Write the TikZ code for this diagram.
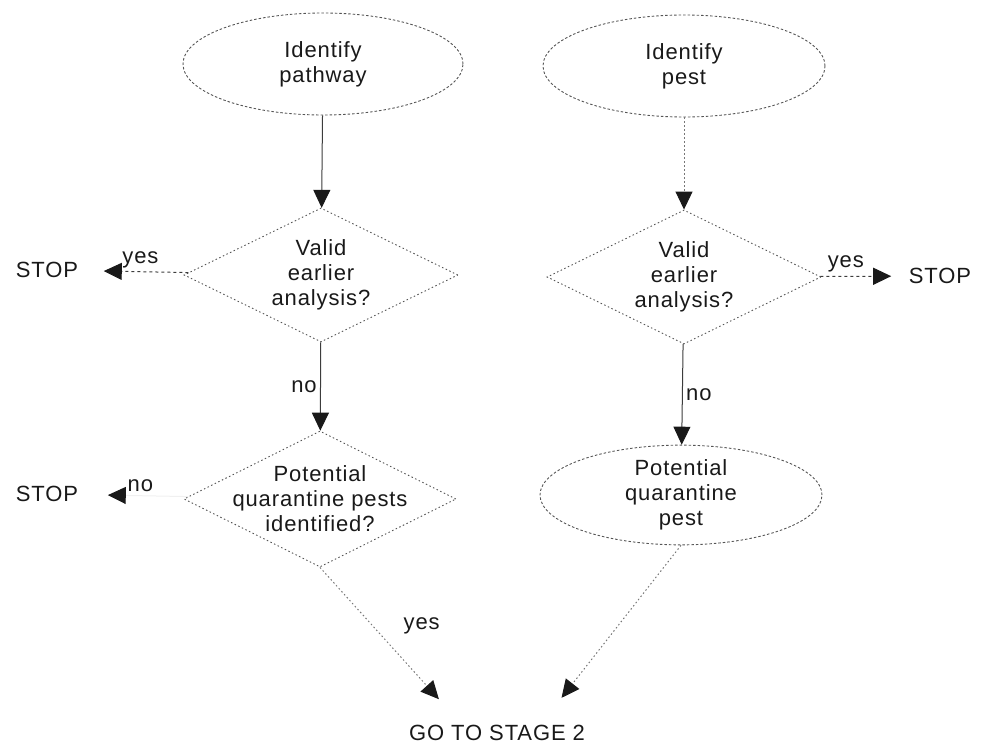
\documentclass[tikz,border=0pt]{standalone}
\usepackage{fontspec}
\setmainfont{Liberation Sans}[LetterSpace=4]
\usepackage{tikz}
\usetikzlibrary{shapes.geometric, arrows.meta, calc}
\definecolor{ink}{RGB}{25, 25, 25}
\definecolor{rim}{RGB}{85, 85, 85}

\begin{document}
\begin{tikzpicture}[x=1pt, y=-1pt, thick,
    font=\fontsize{22}{25}\selectfont, text=ink,
    oval/.style={ellipse, draw=rim, dash pattern=on 2.5pt off 2pt, line width=0.9pt, inner sep=0pt, align=center},
    query/.style={diamond, draw=rim, dash pattern=on 1.5pt off 2.5pt, line width=0.9pt, shape aspect=2, inner sep=-25pt,
      minimum width=274pt, minimum height=134pt, align=center},
    link/.style={draw=ink!85, line width=1pt, -{Triangle[ink, length=18pt, width=17pt]}},
    faint/.style={link, draw=rim!80, dash pattern=on 1.5pt off 2.5pt},
    ghost/.style={link, draw=black!6}]

  \useasboundingbox (0, 0) rectangle (983, 749);

  \node[oval, minimum width=280pt, minimum height=102pt] (path) at (323, 64) {Identify\\pathway};
  \node[oval, minimum width=282pt, minimum height=102pt] (pest) at (684, 66) {Identify\\pest};

  \node[query] (valid1) at (321, 275) {Valid\\earlier\\analysis?};
  \node[query] (valid2) at (684, 277) {Valid\\earlier\\analysis?};

  \node[query, minimum width=272pt, minimum height=136pt] (quar) at (320, 499) {Potential\\quarantine pests\\identified?};
  \node[oval, minimum width=282pt, minimum height=96pt] (potq) at (681, 495) {Potential\\quarantine\\pest};

  \node (stop1) at (47, 270) {STOP};
  \node (stop2) at (940, 276) {STOP};
  \node (stop3) at (47, 494) {STOP};
  \node (go) at (497, 733) {GO TO STAGE 2};

  \draw[link] (path) -- (valid1);
  \draw[faint] (pest) -- (valid2);

  \draw[link, dashed, shorten >=22pt] (valid1) -- node[above, pos=0.45] {yes} (stop1);
  \draw[link] (valid1) -- node[left, pos=0.5] {no} (quar);

  \draw[link, dashed, shorten >=14pt] (valid2) -- node[above, pos=0.3] {yes} (stop2);
  \draw[link] (valid2) -- node[right, pos=0.5] {no} (potq);

  \draw[ghost, shorten >=26pt] (quar) -- node[above, pos=0.45] {no} (stop3);

  \draw[faint, shorten >=30pt] (quar.south) -- node[right=27pt, pos=0.38] {yes} ($(go.north)+(-38, 0)$);
  \draw[faint, shorten >=30pt] (potq.south) -- ($(go.north)+(46, 0)$);

\end{tikzpicture}
\end{document}
